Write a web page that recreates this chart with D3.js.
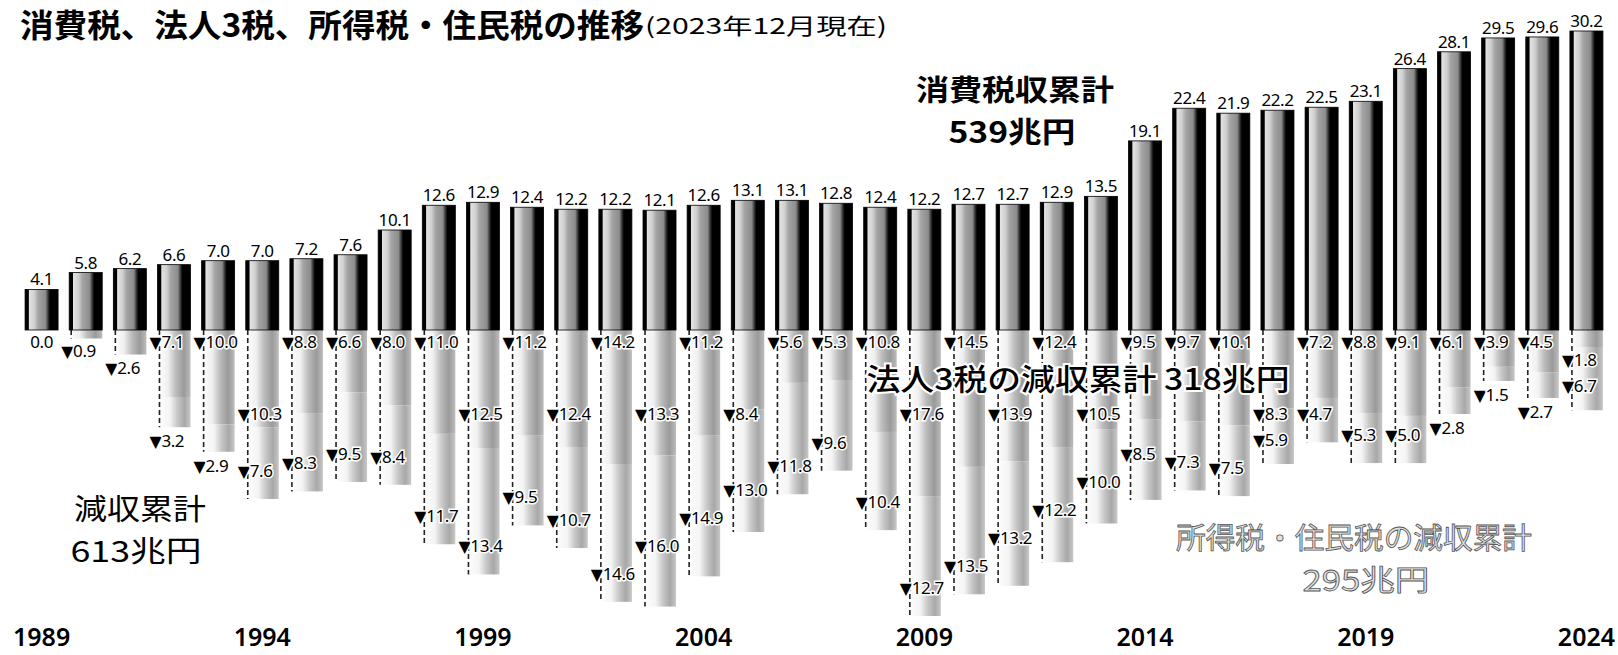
<!DOCTYPE html>
<html><head><meta charset="utf-8">
<script src="https://cdn.jsdelivr.net/npm/d3@7/dist/d3.min.js"></script>
<style>html,body{margin:0;padding:0;background:#fff;} svg{display:block;}</style>
</head><body>
<svg id="chart" width="1618" height="655"></svg>
<script>
// ---- data (兆円) ----
const years = ["1989","1990","1991","1992","1993","1994","1995","1996","1997","1998","1999","2000","2001","2002","2003","2004","2005","2006","2007","2008","2009","2010","2011","2012","2013","2014","2015","2016","2017","2018","2019","2020","2021","2022","2023","2024"];
const consumptionTax = [4.1,5.8,6.2,6.6,7.0,7.0,7.2,7.6,10.1,12.6,12.9,12.4,12.2,12.2,12.1,12.6,13.1,13.1,12.8,12.4,12.2,12.7,12.7,12.9,13.5,19.1,22.4,21.9,22.2,22.5,23.1,26.4,28.1,29.5,29.6,30.2];
const corpTaxCut = [0.0,0.9,2.6,7.1,10.0,10.3,8.8,6.6,8.0,11.0,12.5,11.2,12.4,14.2,13.3,11.2,8.4,5.6,5.3,10.8,17.6,14.5,13.9,12.4,10.5,9.5,9.7,10.1,8.3,7.2,8.8,9.1,6.1,3.9,4.5,1.8];
const incomeTaxCut = [0,0,0,3.2,2.9,7.6,8.3,9.5,8.4,11.7,13.4,9.5,10.7,14.6,16.0,14.9,13.0,11.8,9.6,10.4,12.7,13.5,13.2,12.2,10.0,8.5,7.3,7.5,5.9,4.7,5.3,5.0,2.8,1.5,2.7,6.7];
const tickYears = ["1989","1994","1999","2004","2009","2014","2019","2024"];

const svg = d3.select("#chart");
const W = 1618, H = 655;
svg.append("rect").attr("width", W).attr("height", H).attr("fill", "#fff");

// ---- scales ----
const x = d3.scaleBand().domain(years).range([19.5, 1608.5]).paddingInner(0.252).paddingOuter(0.126);
const yUp = d3.scaleLinear().domain([0, 30.2]).range([330, 31]);
const yDown = d3.scaleLinear().domain([0, 30.3]).range([330, 616]);
const base = yUp(0);
const bw = x.bandwidth();

// ---- gradients ----
const defs = svg.append("defs");
function grad(id, stops) {
  const g = defs.append("linearGradient").attr("id", id).attr("x1", 0).attr("x2", 1).attr("y1", 0).attr("y2", 0);
  stops.forEach(s => g.append("stop").attr("offset", s[0]).attr("stop-color", s[1]));
}
grad("gUp", [[0, "#000"], [0.1, "#000"], [0.13, "#e2e2e2"], [0.28, "#d0d0d0"], [0.4, "#a4a4a4"], [0.62, "#8c8c8c"], [0.71, "#2a2a2a"], [0.76, "#000"], [1, "#000"]]);
grad("gCorp", [[0, "#fff"], [0.32, "#f0f0f0"], [0.55, "#bdbdbd"], [0.8, "#9a9a9a"], [1, "#bcbcbc"]]);
grad("gInc", [[0, "#fff"], [0.38, "#f4f4f4"], [0.6, "#c8c8c8"], [0.82, "#a8a8a8"], [1, "#c8c8c8"]]);

const rows = years.map((yr, i) => ({ yr, c: consumptionTax[i], corp: corpTaxCut[i], inc: incomeTaxCut[i] }));

// ---- downward bars (corporate + income tax cuts, stacked) ----
const down = svg.append("g");
down.selectAll("rect.corp").data(rows).join("rect").attr("class", "corp")
  .attr("x", d => x(d.yr)).attr("y", base)
  .attr("width", bw).attr("height", d => yDown(d.corp) - base)
  .attr("fill", "url(#gCorp)");
down.selectAll("rect.inc").data(rows).join("rect").attr("class", "inc")
  .attr("x", d => x(d.yr)).attr("y", d => yDown(d.corp))
  .attr("width", bw).attr("height", d => yDown(d.corp + d.inc) - yDown(d.corp))
  .attr("fill", "url(#gInc)");
down.selectAll("line.edge").data(rows.filter(d => d.corp + d.inc > 0)).join("line").attr("class", "edge")
  .attr("x1", d => x(d.yr) + 2).attr("x2", d => x(d.yr) + 2)
  .attr("y1", base).attr("y2", d => yDown(d.corp + d.inc))
  .attr("stroke", "#222").attr("stroke-width", 1.6).attr("stroke-dasharray", "5,3");

// ---- upward bars (consumption tax) ----
svg.append("g").selectAll("rect").data(rows).join("rect")
  .attr("x", d => x(d.yr)).attr("y", d => yUp(d.c))
  .attr("width", bw).attr("height", d => base - yUp(d.c))
  .attr("fill", "url(#gUp)").attr("stroke", "#000").attr("stroke-width", 0.8);

// ---- value labels up ----
const numFont = "'Noto Sans', 'DejaVu Sans', sans-serif";
svg.append("g").selectAll("text").data(rows).join("text")
  .attr("x", d => x(d.yr) + bw / 2).attr("y", d => yUp(d.c) - 4)
  .attr("text-anchor", "middle").attr("font-family", numFont).attr("font-size", 17)
  .attr("letter-spacing", -0.4).attr("fill", "#000")
  .text(d => d.c.toFixed(1));

// ---- annotation (drawn before down labels) ----
const jp = "'Noto Sans CJK JP', 'Noto Sans', sans-serif";
function ann(txt, cx, yb, size, weight, len, fill, stroke) {
  const t = svg.append("text").attr("x", cx).attr("y", yb).attr("text-anchor", "middle")
    .attr("font-family", jp).attr("font-size", size).attr("font-weight", weight)
    .attr("fill", fill || "#000").text(txt);
  if (len) t.attr("textLength", len).attr("lengthAdjust", "spacingAndGlyphs");
  if (stroke) t.attr("stroke", stroke).attr("stroke-width", 0.8);
  return t;
}
ann("法人3税の減収累計 318兆円", 1078, 390, 30, 500, 423).attr("stroke", "#fff").attr("stroke-width", 4).attr("paint-order", "stroke");

// ---- down labels with simple collision staggering ----
const labG = svg.append("g").attr("font-family", numFont).attr("font-size", 17).attr("fill", "#000");
function makeLabel(v) {
  const t = labG.append("text").attr("stroke", "#fff").attr("stroke-width", 3).attr("paint-order", "stroke").attr("letter-spacing", -0.4);
  t.append("tspan").attr("font-family", "'DejaVu Sans', sans-serif").attr("font-size", 16).text("▼");
  t.append("tspan").text(v.toFixed(1));
  return t;
}
let prevC = null;
const corpLabelY = [];
rows.forEach((d, i) => {
  if (d.corp === 0) {
    labG.append("text").attr("x", x(d.yr) + bw / 2).attr("y", base + 18).attr("text-anchor", "middle")
      .attr("letter-spacing", -0.4).text(d.corp.toFixed(1));
    corpLabelY.push(base + 12); prevC = null; return;
  }
  const t = makeLabel(d.corp);
  const x0 = x(d.yr) - 8;
  const w = t.node().getComputedTextLength();
  let yc = d.corp < 3 ? yDown(d.corp) + 13 : base + 12;
  if (prevC && prevC.x0 + prevC.w + 1 > x0 && Math.abs(prevC.y - yc) < 18) yc += 72;
  t.attr("x", x0).attr("y", yc + 6);
  corpLabelY.push(yc);
  prevC = { x0, w, y: yc };
});
let prevI = null;
rows.forEach((d, i) => {
  if (d.inc === 0) { prevI = null; return; }
  const t = makeLabel(d.inc);
  const x0 = x(d.yr) - 8;
  const w = t.node().getComputedTextLength();
  const bottom = yDown(d.corp + d.inc);
  let yc = d.inc < 3.5 ? bottom + 14 : bottom - 28;
  if (yc < corpLabelY[i] + 26) yc = corpLabelY[i] + 26;
  if (prevI && prevI.x0 + prevI.w + 1 > x0 && Math.abs(prevI.y - yc) < 18) {
    const up = prevI.y - 28;
    yc = (up >= corpLabelY[i] + 26) ? up : prevI.y + 28;
  }
  t.attr("x", x0).attr("y", yc + 6);
  prevI = { x0, w, y: yc };
});

// ---- year axis ----
const axis = d3.axisBottom(x).tickValues(tickYears).tickSize(0);
const ax = svg.append("g").attr("transform", `translate(0,646)`).call(axis);
ax.select(".domain").remove();
ax.selectAll("text").attr("y", 0).attr("dy", 0)
  .attr("font-family", "'Noto Sans', sans-serif").attr("font-size", 25).attr("font-weight", 600).attr("fill", "#000");

// ---- titles & other annotations ----
svg.append("text").attr("x", 20).attr("y", 37).attr("font-family", jp).attr("font-size", 32).attr("font-weight", 700)
  .attr("textLength", 624).attr("lengthAdjust", "spacingAndGlyphs").text("消費税、法人3税、所得税・住民税の推移");
svg.append("text").attr("x", 645).attr("y", 34).attr("font-family", jp).attr("font-size", 22)
  .attr("textLength", 242).attr("lengthAdjust", "spacingAndGlyphs").text("(2023年12月現在)");

ann("消費税収累計", 1015, 101, 29, 700, 198);
ann("539兆円", 1012, 143, 29, 700, 127);
ann("減収累計", 140, 520, 29, 400, 132);
ann("613兆円", 136, 562, 29, 400, 131);
ann("所得税・住民税の減収累計", 1354, 549, 29, 400, 356, "#e2e2e2", "#555");
ann("295兆円", 1366, 591, 29, 400, 127, "#e2e2e2", "#555");
</script>
</body></html>
